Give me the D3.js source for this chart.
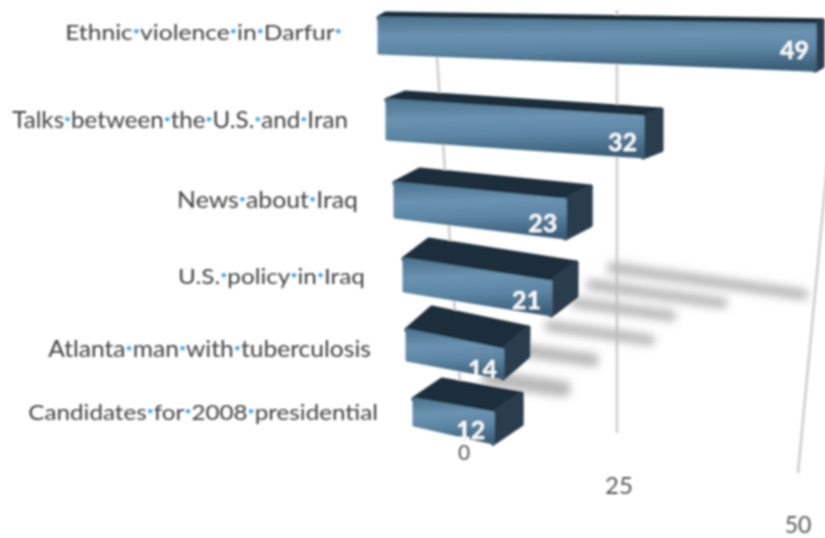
<!DOCTYPE html>
<html>
<head>
<meta charset="utf-8">
<script src="https://cdn.jsdelivr.net/npm/d3@7"></script>
<style>
  html, body { margin: 0; padding: 0; background: #fff; overflow: hidden; }
  text { font-family: Lato, "Open Sans", sans-serif; }
</style>
</head>
<body>
<div id="chart"></div>
<script>
// donnees
const categories = [
    "Ethnic violence in Darfur",
    "Talks between the U.S. and Iran",
    "News about Iraq",
    "U.S. policy in Iraq",
    "Atlanta man with tuberculosis",
    "Candidates for 2008 presidential"
];
const values = [49, 32, 23, 21, 14, 12];
const tickValues = [0, 25, 50];

const width = 825;
const height = 538;
const rows = categories.map((d, i) => i);

// une echelle par grandeur de la perspective, indexee par rang
const rowScale = range => d3.scaleLinear().domain(rows).range(range);
const frontLeft = rowScale([379, 387, 395, 404, 407, 414]);
const frontUnit = rowScale([8.9, 8.0, 7.4, 7.0, 6.85, 6.6]);
const topLeft = rowScale([18, 100, 183, 259, 330, 399]);
const topSlope = rowScale([0.14, 0.53, 0.74, 1.09, 1.43, 1.17]);
const bottomLeft = rowScale([53, 139, 217, 291, 360, 425]);
const bottomSlope = rowScale([0.35, 0.56, 0.91, 1.14, 1.29, 1.5]);
const depthX = rowScale([7, 18, 25, 25, 25, 28]);
const depthY = rowScale([-4, -7, -13, -19, -22, -19]);
const valueDx = rowScale([6, 6, 8, 10, 6, 8]);
const valueDy = rowScale([11, 6, 6, 6, 0, 4]);

const labelLeft = rowScale([65, 12, 177, 178, 48, 28]);
const labelRight = rowScale([342, 348, 358, 365, 371, 378]);
const labelBase = rowScale([40, 128, 208, 284, 357, 420]);
const labelSize = rowScale([22, 24, 23.5, 22, 23, 22]);

// ombres portees sur le sol
const floorLeft = rowScale([450, 450, 450, 450, 450, 450]);
const floorUnit = rowScale([7.2, 8.5, 9.6, 9.5, 10.2, 9.4]);
const floorY = rowScale([245, 265, 285, 312, 340, 373]);
const floorStart = rowScale([0.46, 0.52, 0.57, 0.5, 0.45, 0.35]);
const floorWidth = rowScale([11, 11, 11, 11, 13, 16]);
const floorSlope = 0.14;

const xAt = i => d3.scaleLinear().domain([0, 50]).range([frontLeft(i), frontLeft(i) + 50 * frontUnit(i)]);
const topAt = i => d3.scaleLinear().domain([0, 50]).range([topLeft(i), topLeft(i) + 50 * topSlope(i)]);
const bottomAt = i => d3.scaleLinear().domain([0, 50]).range([bottomLeft(i), bottomLeft(i) + 50 * bottomSlope(i)]);

// grille
const gridTopX = d3.scaleLinear().domain(tickValues).range([434, 617, 841]);
const gridTopY = d3.scaleLinear().domain(tickValues).range([15, 10, 20]);
const gridBottomX = d3.scaleLinear().domain(tickValues).range([464, 617, 798]);
const gridBottomY = d3.scaleLinear().domain(tickValues).range([440, 433, 473]);
const tickX = d3.scaleLinear().domain(tickValues).range([464, 619, 798]);
const tickBase = d3.scaleLinear().domain(tickValues).range([460, 494, 533]);
const tickSize = d3.scaleLinear().domain(tickValues).range([21, 24, 23]);

const svg = d3.select("#chart").append("svg")
    .attr("width", width)
    .attr("height", height)
    .style("display", "block");

const defs = svg.append("defs");

defs.append("filter").attr("id", "soft")
    .attr("x", 0).attr("y", 0).attr("width", width).attr("height", height)
    .attr("filterUnits", "userSpaceOnUse")
    .append("feGaussianBlur").attr("stdDeviation", 1.05);

defs.append("filter").attr("id", "shadow")
    .attr("x", 400).attr("y", 200).attr("width", 425).attr("height", 250)
    .attr("filterUnits", "userSpaceOnUse")
    .append("feGaussianBlur").attr("stdDeviation", 4);

const faceGradient = defs.append("linearGradient").attr("id", "face")
    .attr("x1", 0).attr("y1", 0).attr("x2", 0.08).attr("y2", 1);
faceGradient.append("stop").attr("offset", "0%").attr("stop-color", "#4c748f");
faceGradient.append("stop").attr("offset", "35%").attr("stop-color", "#6a93b1");
faceGradient.append("stop").attr("offset", "65%").attr("stop-color", "#5c86a4");
faceGradient.append("stop").attr("offset", "100%").attr("stop-color", "#3c617c");

const root = svg.append("g").attr("filter", "url(#soft)");

// grille
root.append("g").selectAll("line")
    .data(tickValues)
    .join("line")
    .attr("x1", gridTopX)
    .attr("y1", gridTopY)
    .attr("x2", gridBottomX)
    .attr("y2", gridBottomY)
    .attr("stroke", "#d4d4d4")
    .attr("stroke-width", 3);

// ombres
root.append("g").attr("filter", "url(#shadow)").selectAll("line")
    .data(rows)
    .join("line")
    .attr("x1", i => floorLeft(i) + floorUnit(i) * values[i] * floorStart(i))
    .attr("y1", i => floorY(i) + floorSlope * floorUnit(i) * values[i] * floorStart(i))
    .attr("x2", i => floorLeft(i) + floorUnit(i) * values[i])
    .attr("y2", i => floorY(i) + floorSlope * floorUnit(i) * values[i])
    .attr("stroke", "#b8b8b8")
    .attr("stroke-width", floorWidth)
    .attr("stroke-linecap", "round");

// barres en perspective
const bars = root.append("g").selectAll("g")
    .data(rows)
    .join("g");

const poly = pts => "M" + pts.map(p => p.join(",")).join("L") + "Z";

bars.append("path") // dessus
    .attr("d", i => {
        const x = xAt(i), t = topAt(i), v = values[i];
        return poly([
            [x(0), t(0)],
            [x(0) + depthX(i), t(0) + depthY(i)],
            [x(v) + depthX(i), t(v) + depthY(i)],
            [x(v), t(v)]
        ]);
    })
    .attr("fill", "#1f2e3a")
    .attr("stroke", "#1f2e3a")
    .attr("stroke-width", 5)
    .attr("stroke-linejoin", "round");

bars.append("path") // cote droit
    .attr("d", i => {
        const x = xAt(i), t = topAt(i), b = bottomAt(i), v = values[i];
        return poly([
            [x(v), t(v)],
            [x(v) + depthX(i), t(v) + depthY(i)],
            [x(v) + depthX(i), b(v) + depthY(i)],
            [x(v), b(v)]
        ]);
    })
    .attr("fill", "#2a3e4d")
    .attr("stroke", "#2a3e4d")
    .attr("stroke-width", 5)
    .attr("stroke-linejoin", "round");

bars.append("path") // face avant
    .attr("d", i => {
        const x = xAt(i), t = topAt(i), b = bottomAt(i), v = values[i];
        return poly([[x(0), t(0)], [x(v), t(v)], [x(v), b(v)], [x(0), b(0)]]);
    })
    .attr("fill", "url(#face)")
    .attr("stroke", "url(#face)")
    .attr("stroke-width", 3)
    .attr("stroke-linejoin", "round");

bars.append("text") // valeur
    .attr("x", i => xAt(i)(values[i]) - valueDx(i))
    .attr("y", i => bottomAt(i)(values[i]) - valueDy(i))
    .attr("text-anchor", "end")
    .attr("fill", "#fff")
    .attr("font-size", 25)
    .attr("font-weight", 700)
    .text(i => values[i]);

// etiquettes: mots separes par un point bleu
const labels = root.append("g").selectAll("text")
    .data(rows)
    .join("text")
    .attr("x", labelRight)
    .attr("y", labelBase)
    .attr("text-anchor", "end")
    .attr("fill", "#404040")
    .attr("font-size", labelSize);

const addDot = label => label.append("tspan")
    .attr("fill", "#3fa4ee")
    .attr("font-size", "0.5em")
    .attr("baseline-shift", "45%")
    .text("\u2022");

labels.each(function(i) {
    const label = d3.select(this);
    categories[i].split(" ").forEach((word, k) => {
        if (k > 0) addDot(label);
        label.append("tspan").text(word);
    });
    if (i === 0) addDot(label);
    // etire le texte horizontalement pour tenir la largeur
    const sx = (labelRight(i) - labelLeft(i)) / this.getComputedTextLength();
    label.attr("transform", `translate(${labelRight(i)},0) scale(${sx},1) translate(${-labelRight(i)},0)`);
});

// graduations
root.append("g").selectAll("text")
    .data(tickValues)
    .join("text")
    .attr("x", tickX)
    .attr("y", tickBase)
    .attr("text-anchor", "middle")
    .attr("fill", "#555")
    .attr("font-size", tickSize)
    .text(d => d);
</script>
</body>
</html>
